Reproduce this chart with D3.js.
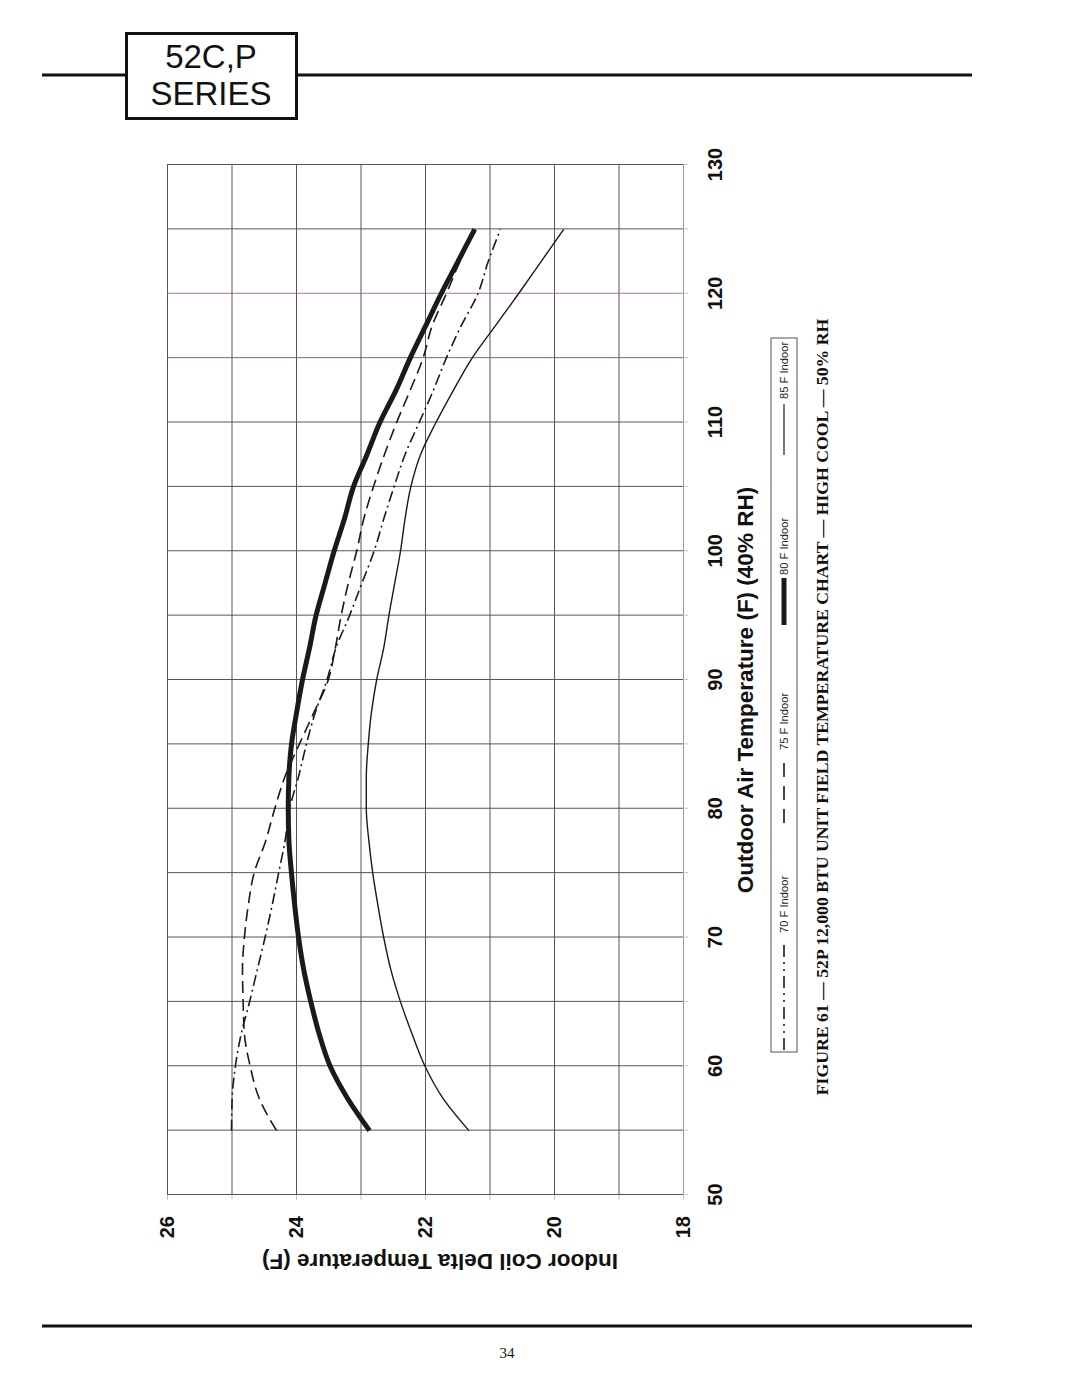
<!DOCTYPE html>
<html>
<head>
<meta charset="utf-8">
<script src="https://cdn.jsdelivr.net/npm/d3@7"></script>
<style>
  html, body { margin: 0; padding: 0; background: #fff; }
  svg { display: block; }
</style>
</head>
<body>
<svg id="page" width="1080" height="1397"></svg>
<script>
// ---------- data ----------
const outdoorTemps = [55, 57.5, 60, 62.5, 65, 67.5, 70, 72.5, 75, 77.5, 80, 82.5, 85, 87.5, 90, 92.5, 95, 97.5, 100, 102.5, 105, 107.5, 110, 112.5, 115, 117.5, 120, 122.5, 125];
const delta70 = [25.00, 24.99, 24.94, 24.85, 24.72, 24.60, 24.48, 24.37, 24.27, 24.17, 24.10, 23.96, 23.84, 23.70, 23.52, 23.38, 23.17, 22.98, 22.79, 22.64, 22.48, 22.31, 22.09, 21.87, 21.67, 21.44, 21.18, 21.02, 20.83];
const delta75 = [24.30, 24.57, 24.71, 24.80, 24.82, 24.83, 24.80, 24.74, 24.65, 24.47, 24.33, 24.17, 23.95, 23.72, 23.50, 23.39, 23.30, 23.19, 23.06, 22.95, 22.80, 22.63, 22.44, 22.23, 22.03, 21.89, 21.67, 21.46, 21.22];
const delta80 = [22.86, 23.20, 23.47, 23.64, 23.77, 23.88, 23.96, 24.02, 24.07, 24.11, 24.12, 24.11, 24.07, 23.99, 23.90, 23.79, 23.69, 23.55, 23.41, 23.25, 23.11, 22.90, 22.70, 22.45, 22.23, 21.99, 21.75, 21.49, 21.23];
const delta85 = [21.32, 21.72, 22.00, 22.20, 22.38, 22.53, 22.64, 22.73, 22.81, 22.87, 22.91, 22.91, 22.88, 22.83, 22.75, 22.64, 22.56, 22.47, 22.38, 22.31, 22.22, 22.07, 21.83, 21.56, 21.27, 20.91, 20.55, 20.20, 19.85];
const seriesNames = ["70 F Indoor", "75 F Indoor", "80 F Indoor", "85 F Indoor"];
const outdoorTicks = [50, 55, 60, 65, 70, 75, 80, 85, 90, 95, 100, 105, 110, 115, 120, 125, 130];
const deltaTicks = [26, 25, 24, 23, 22, 21, 20, 19, 18];
const headerLines = ["52C,P", "SERIES"];
const xTitle = "Outdoor Air Temperature (F) (40% RH)";
const yTitle = "Indoor Coil Delta Temperature (F)";
const caption = "FIGURE 61 — 52P 12,000 BTU UNIT FIELD TEMPERATURE CHART — HIGH COOL — 50% RH";
const pageNumber = "34";

// ---------- page furniture ----------
const svg = d3.select("#page");
const sans = "'Liberation Sans', Arial, Helvetica, sans-serif";
const serif = "'Liberation Serif', 'Times New Roman', serif";

svg.append("line").attr("x1", 42).attr("x2", 972).attr("y1", 75).attr("y2", 75)
  .attr("stroke", "#111").attr("stroke-width", 3);
svg.append("rect").attr("x", 126.5).attr("y", 33.5).attr("width", 170).attr("height", 85)
  .attr("fill", "#fff").attr("stroke", "#111").attr("stroke-width", 3);
svg.selectAll("text.hdr").data(headerLines).join("text").attr("class", "hdr")
  .attr("x", 211).attr("y", (d, i) => 68 + i * 37)
  .attr("text-anchor", "middle").attr("font-family", sans).attr("font-size", 33)
  .attr("fill", "#111").text(d => d);

svg.append("line").attr("x1", 42).attr("x2", 972).attr("y1", 1326).attr("y2", 1326)
  .attr("stroke", "#111").attr("stroke-width", 3);
svg.append("text").attr("x", 507).attr("y", 1358).attr("text-anchor", "middle")
  .attr("font-family", serif).attr("font-size", 15).attr("fill", "#111").text(pageNumber);

// ---------- chart (drawn landscape, then rotated -90deg) ----------
const W = 1030, H = 516;
const g = svg.append("g").attr("transform", "translate(167,1195) rotate(-90)");

const x = d3.scaleLinear().domain([50, 130]).range([0, W]);
const y = d3.scaleLinear().domain([26, 18]).range([0, H]);

// grid lines
const gridColor = t => (t === 120 ? "#b07a7a" : t === 115 ? "#8c6565" : "#555");
const gx = g.append("g").attr("transform", `translate(0,${H})`)
  .call(d3.axisBottom(x).tickValues(outdoorTicks).tickSize(-H).tickFormat(""));
gx.select(".domain").remove();
gx.selectAll(".tick line").attr("stroke", d => gridColor(d)).attr("stroke-width", 1);

const gy = g.append("g").attr("transform", `translate(${W},0)`)
  .call(d3.axisLeft(y).tickValues(deltaTicks).tickSize(W).tickFormat(""));
gy.select(".domain").remove();
gy.selectAll(".tick line").attr("stroke", d => d === 18 ? "#9a9a9a" : "#555").attr("stroke-width", 1);

// outer ticks + labels
const ax = g.append("g").attr("transform", `translate(0,${H})`)
  .call(d3.axisBottom(x).tickValues(outdoorTicks).tickSize(5).tickPadding(20)
    .tickFormat(d => d % 10 === 0 ? d : ""));
ax.select(".domain").remove();
ax.selectAll(".tick line").attr("stroke", "#c4c4c4");
ax.selectAll(".tick text").attr("font-family", sans).attr("font-size", 20)
  .attr("font-weight", "bold").attr("fill", "#111");

const ay = g.append("g")
  .call(d3.axisLeft(y).tickValues(deltaTicks).tickSize(5).tickPadding(16)
    .tickFormat(d => d % 2 === 0 ? d : ""));
ay.select(".domain").remove();
ay.selectAll(".tick line").attr("stroke", "#c4c4c4");
ay.selectAll(".tick text").attr("font-family", sans).attr("font-size", 20)
  .attr("font-weight", "bold").attr("fill", "#111");

// axis titles
g.append("text").attr("x", 505).attr("y", 586).attr("text-anchor", "middle")
  .attr("font-family", sans).attr("font-size", 22.5).attr("font-weight", "bold")
  .attr("fill", "#111").text(xTitle);
g.append("text").attr("transform", "translate(-59,273) rotate(-90)").attr("text-anchor", "middle")
  .attr("font-family", sans).attr("font-size", 22.5).attr("font-weight", "bold")
  .attr("fill", "#111").text(yTitle);

// series
const styles = [
  { data: delta70, width: 1.6, dash: "11,4,2,4" },
  { data: delta75, width: 1.6, dash: "12,6" },
  { data: delta80, width: 5, dash: null },
  { data: delta85, width: 1.4, dash: null }
];
const line = d3.line().x(d => x(d[0])).y(d => y(d[1])).curve(d3.curveMonotoneX);
styles.forEach(s => {
  g.append("path")
    .attr("d", line(outdoorTemps.map((t, i) => [t, s.data[i]])))
    .attr("fill", "none").attr("stroke", "#1a1a1a")
    .attr("stroke-width", s.width)
    .attr("stroke-dasharray", s.dash)
    .attr("stroke-linejoin", "round");
});

// legend
const lg = g.append("g");
lg.append("rect").attr("x", 143).attr("y", 604).attr("width", 714).attr("height", 26)
  .attr("fill", "none").attr("stroke", "#555").attr("stroke-width", 1);
const legendItems = [
  { name: seriesNames[0], x0: 145, x1: 250, tx: 262, width: 1.6, dash: "12,5,2,5,2,5" },
  { name: seriesNames[1], x0: 372, x1: 432, tx: 445, width: 1.6, dash: "14,9" },
  { name: seriesNames[2], x0: 570, x1: 617, tx: 620, width: 5, dash: null },
  { name: seriesNames[3], x0: 740, x1: 791, tx: 796, width: 1.2, dash: null }
];
legendItems.forEach(it => {
  lg.append("line").attr("x1", it.x0).attr("x2", it.x1).attr("y1", 617).attr("y2", 617)
    .attr("stroke", "#1a1a1a").attr("stroke-width", it.width).attr("stroke-dasharray", it.dash);
  lg.append("text").attr("x", it.tx).attr("y", 621).attr("font-family", sans)
    .attr("font-size", 11.2).attr("fill", "#222").text(it.name);
});

// caption
g.append("text").attr("x", 488).attr("y", 661).attr("text-anchor", "middle")
  .attr("font-family", serif).attr("font-size", 17.7).attr("font-weight", "bold")
  .attr("fill", "#111").text(caption);
</script>
</body>
</html>
